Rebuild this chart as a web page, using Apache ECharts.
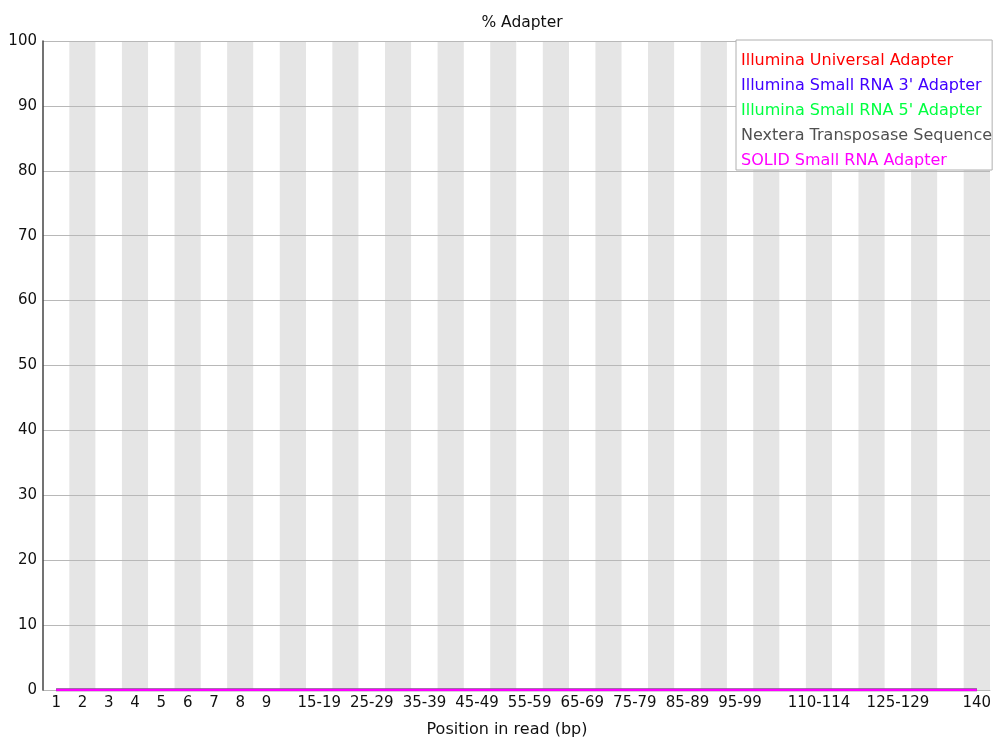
<!DOCTYPE html>
<html>
<head>
<meta charset="utf-8">
<script src="https://cdn.jsdelivr.net/npm/echarts@6/dist/echarts.min.js"></script>
<style>html,body{margin:0;padding:0;background:#fff;}#c{width:1000px;height:742px;}</style>
</head>
<body>
<div id="c"></div>
<script>
const categories = ['1','2','3','4','5','6','7','8','9','10-14','15-19','20-24','25-29','30-34','35-39','40-44','45-49','50-54','55-59','60-64','65-69','70-74','75-79','80-84','85-89','90-94','95-99','100-104','105-109','110-114','115-119','120-124','125-129','130-134','135-139','140'];
const shownLabels = ['1','2','3','4','5','6','7','8','9','15-19','25-29','35-39','45-49','55-59','65-69','75-79','85-89','95-99','110-114','125-129','140'];
const seriesNames = ['Illumina Universal Adapter',"Illumina Small RNA 3' Adapter","Illumina Small RNA 5' Adapter",'Nextera Transposase Sequence','SOLID Small RNA Adapter'];
const universal = [0,0,0,0,0,0,0,0,0,0,0,0,0,0,0,0,0,0,0,0,0,0,0,0,0,0,0,0,0,0,0,0,0,0,0,0];
const smallRna3 = [0,0,0,0,0,0,0,0,0,0,0,0,0,0,0,0,0,0,0,0,0,0,0,0,0,0,0,0,0,0,0,0,0,0,0,0];
const smallRna5 = [0,0,0,0,0,0,0,0,0,0,0,0,0,0,0,0,0,0,0,0,0,0,0,0,0,0,0,0,0,0,0,0,0,0,0,0];
const nextera = [0,0,0,0,0,0,0,0,0,0,0,0,0,0,0,0,0,0,0,0,0,0,0,0,0,0,0,0,0,0,0,0,0,0,0,0];
const solid = [0,0,0,0,0,0,0,0,0,0,0,0,0,0,0,0,0,0,0,0,0,0,0,0,0,0,0,0,0,0,0,0,0,0,0,0];
const seriesData = [universal, smallRna3, smallRna5, nextera, solid];
const colors = ['#ff0000','#4000ff','#00ff40','#505050','#ff00ff'];

const FONT = 'DejaVu Sans';
const chart = echarts.init(document.getElementById('c'), null, {renderer:'canvas'});
chart.setOption({
  animation: false,
  backgroundColor: '#ffffff',
  title: {
    text: '% Adapter', left: 517, textAlign: 'center', top: 10,
    textStyle: {fontFamily: FONT, fontSize: 15.5, fontWeight: 'normal', color: '#111'}
  },
  legend: {
    orient: 'vertical', left: 736, top: 40,
    backgroundColor: '#ffffff', borderColor: '#b0b0b0', borderWidth: 1,
    padding: [13, 0, 1, 0],
    icon: 'none', itemWidth: 0, itemHeight: 14, itemGap: 9,
    selectedMode: false,
    data: seriesNames.map((n, i) => ({name: n, textStyle: {color: colors[i]}})),
    textStyle: {fontFamily: FONT, fontSize: 16}
  },
  grid: {left: 43, right: 10, top: 41, bottom: 52, outerBoundsMode: 'none', containLabel: false},
  xAxis: {
    type: 'category', data: categories, boundaryGap: true, z: 0,
    name: 'Position in read (bp)', nameLocation: 'middle', nameGap: 32,
    nameTextStyle: {fontFamily: FONT, fontSize: 16, color: '#111', padding: [0, 19, 0, 0]},
    axisLine: {lineStyle: {color: '#c8c8c8', width: 1}},
    axisTick: {show: false},
    axisLabel: {
      interval: (idx, val) => shownLabels.indexOf(val) >= 0,
      fontFamily: FONT, fontSize: 15, color: '#111', margin: 6
    },
    splitLine: {show: false},
    splitArea: {show: true, interval: 0, areaStyle: {color: ['#ffffff', '#e5e5e5']}}
  },
  yAxis: {
    type: 'value', min: 0, max: 100, interval: 10, z: 1,
    axisLine: {show: true, lineStyle: {color: '#444', width: 1.5}},
    axisTick: {show: false},
    axisLabel: {fontFamily: FONT, fontSize: 15, color: '#111', margin: 6},
    splitLine: {show: true, lineStyle: {color: '#b8b8b8', width: 1}}
  },
  series: seriesNames.map((n, i) => ({
    name: n, type: 'line', data: seriesData[i], symbol: 'none',
    lineStyle: {color: colors[i], width: 2.5}, itemStyle: {color: colors[i]}, z: 2 + i
  }))
});
</script>
</body>
</html>
